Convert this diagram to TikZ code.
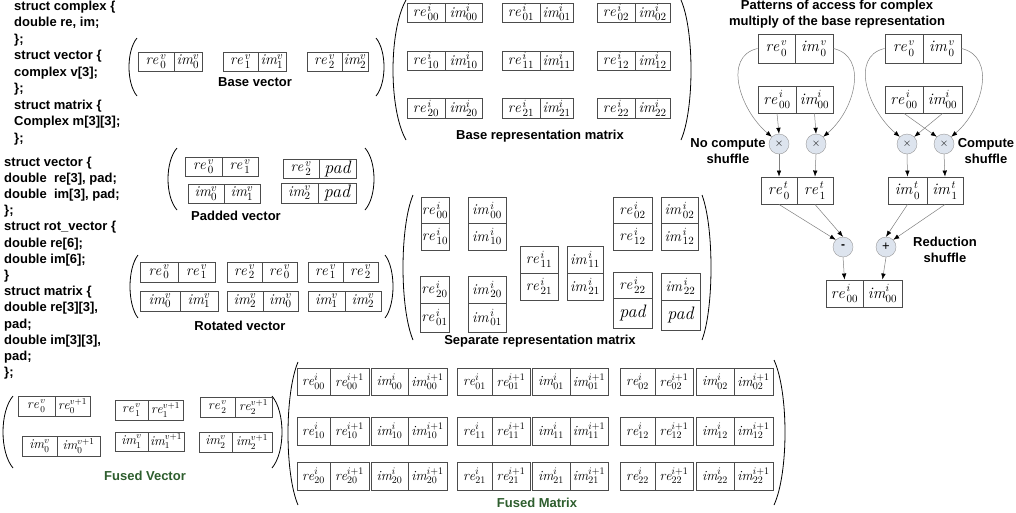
\documentclass[tikz,border=0pt]{standalone}
\usepackage{fontspec}
\newfontfamily\lsans{Liberation Sans}
\usetikzlibrary{arrows.meta}
\definecolor{opfill}{HTML}{DDE4EE}
\definecolor{fgreen}{HTML}{2E5E2E}
\newcommand\vs[3]{$\mathit{#1}^{\,#2}_{\,#3}$}
\newcommand\vt[3]{$\mathit{#1}^{#2}_{#3}$}
\newcommand\padtxt{{\fontsize{18}{18}\selectfont\itshape pad}}
\newcommand\cellbox[6]{%
  \pgfmathsetmacro\cbw{#4-#2}\pgfmathsetmacro\cbh{#5-#3}%
  \pgfmathsetmacro\cbx{(#2+#4)/2}\pgfmathsetmacro\cby{(#3+#5)/2}%
  \node[cellst,minimum width=\cbw pt,minimum height=\cbh pt] (#1) at (\cbx,\cby) {#6};}
% pairbox{name}{x1}{xm}{x2}{y1}{y2}{left}{right}
\newcommand\pairbox[8]{\cellbox{#1a}{#2}{#5}{#3}{#6}{#7}\cellbox{#1b}{#3}{#5}{#4}{#6}{#8}}
% vpairbox{name}{x1}{x2}{y1}{ym}{y2}{top}{bottom}
\newcommand\vpairbox[8]{\cellbox{#1a}{#2}{#4}{#3}{#5}{#7}\cellbox{#1b}{#2}{#5}{#3}{#6}{#8}}
% parenc{xend}{xmid}{ytop}{ybot}
\newcommand\parenc[4]{%
  \pgfmathsetmacro\pcx{(4*#2-#1)/3}\pgfmathsetmacro\pcy{#3+0.22*(#4-#3)}\pgfmathsetmacro\pcz{#4-0.22*(#4-#3)}%
  \draw[paren] (#1,#3) .. controls (\pcx,\pcy) and (\pcx,\pcz) .. (#1,#4);}
\begin{document}
\begin{tikzpicture}[x=1pt,y=-1pt,
  cellst/.style={draw=black!70, line width=0.9pt, inner sep=0pt, font=\fontsize{15}{15}\selectfont},
  paren/.style={draw=black, line width=0.8pt},
  lbl/.style={font=\lsans\bfseries\fontsize{13}{16}\selectfont, inner sep=0pt, align=center},
  code/.style={font=\lsans\bfseries\fontsize{13}{16}\selectfont, inner sep=0pt, anchor=west, text height=9pt, text depth=3pt},
  conn/.style={draw=black!50, line width=0.5pt, -{Latex[length=6pt,width=4.5pt,color=black]}},
  op/.style={circle, draw=black!40, fill=opfill, minimum size=20pt, inner sep=0pt, font=\fontsize{11}{11}\selectfont}]
\useasboundingbox[fill=white] (0,0) rectangle (1016,512);

% ---------- code text
\foreach \t [count=\i from 0] in {{struct complex \{},{double re, im;},{\};},{struct vector \{},{complex v[3];},{\};},{struct matrix \{},{Complex m[3][3];},{\};}}
  \node[code] (ca\i) at (14,{7+16.5*\i}) {\t};
\foreach \t [count=\i from 0] in {{struct vector \{},{double\ \ re[3], pad;},{double\ \ im[3], pad;},{\};},{struct rot\_vector \{},{double re[6];},{double im[6];},{\}},{struct matrix \{},{double re[3][3],},{pad;},{double im[3][3],},{pad;},{\};}}
  \node[code] (cb\i) at (4,{163+16.2*\i}) {\t};

% ---------- base vector
\parenc{137}{129}{38}{96}
\parenc{376}{384}{38}{96}
\pairbox{bv0}{138}{174}{202}{52}{71}{\vs{re}{v}{0}}{\vt{im}{v}{0}}
\pairbox{bv1}{223}{258}{286}{52}{71}{\vs{re}{v}{1}}{\vt{im}{v}{1}}
\pairbox{bv2}{307}{342}{368}{52}{71}{\vs{re}{v}{2}}{\vt{im}{v}{2}}
\node[lbl] (lbv) at (255,82) {Base vector};

% ---------- base representation matrix
\parenc{406}{393}{0}{140}
\parenc{681}{691}{0}{140}
\foreach \r/\yt/\yb in {0/3/22,1/51/70,2/98/118}
  \foreach \c/\xa/\xm/\xb in {0/407/445/482,1/502/540/573,2/597/635/670}
    {\pairbox{bm\r\c}{\xa}{\xm}{\xb}{\yt}{\yb}{\vs{re}{i}{\r\c}}{\vt{im}{i}{\r\c}}}
\node[lbl] (lbm) at (540,136) {Base representation matrix};

% ---------- padded vector
\parenc{177}{168}{148}{210}
\parenc{365}{374}{148}{210}
\pairbox{pv0}{185}{222}{258}{157}{176}{\vs{re}{v}{0}}{\vs{re}{v}{1}}
\pairbox{pv1}{283}{319}{356}{159}{178}{\vs{re}{v}{2}}{\padtxt}
\pairbox{pv2}{188}{224}{260}{184}{203}{\vt{im}{v}{0}}{\vt{im}{v}{1}}
\pairbox{pv3}{281}{318}{356}{183}{203}{\vt{im}{v}{2}}{\padtxt}
\node[lbl] (lpv) at (236,216) {Padded vector};

% ---------- rotated vector
\parenc{138}{130}{255}{318}
\parenc{385}{393}{255}{318}
\pairbox{rv0}{140}{178}{215}{262}{282}{\vs{re}{v}{0}}{\vs{re}{v}{1}}
\pairbox{rv1}{227}{262}{297}{262}{282}{\vs{re}{v}{2}}{\vs{re}{v}{0}}
\pairbox{rv2}{308}{343}{378}{262}{282}{\vs{re}{v}{1}}{\vs{re}{v}{2}}
\pairbox{rv3}{140}{180}{218}{291}{311}{\vt{im}{v}{0}}{\vt{im}{v}{1}}
\pairbox{rv4}{227}{263}{298}{291}{311}{\vt{im}{v}{2}}{\vt{im}{v}{0}}
\pairbox{rv5}{308}{345}{381}{291}{311}{\vt{im}{v}{1}}{\vt{im}{v}{2}}
\node[lbl] (lrv) at (240,326) {Rotated vector};

% ---------- separate representation matrix
\parenc{413}{403}{195}{340}
\parenc{702}{711}{195}{340}
\vpairbox{s1}{421}{449}{197}{223}{250}{\vs{re}{i}{00}}{\vs{re}{i}{10}}
\vpairbox{s2}{468}{506}{197}{223}{250}{\vs{im}{i}{00}}{\vs{im}{i}{10}}
\vpairbox{s3}{420}{449}{276}{303}{332}{\vs{re}{i}{20}}{\vs{re}{i}{01}}
\vpairbox{s4}{468}{506}{276}{303}{332}{\vs{im}{i}{20}}{\vs{im}{i}{01}}
\vpairbox{s5}{520}{558}{246}{273}{300}{\vs{re}{i}{11}}{\vs{re}{i}{21}}
\vpairbox{s6}{567}{603}{246}{273}{300}{\vs{im}{i}{11}}{\vs{im}{i}{21}}
\vpairbox{s7}{613}{652}{197}{223}{250}{\vs{re}{i}{02}}{\vs{re}{i}{12}}
\vpairbox{s8}{661}{698}{197}{223}{250}{\vs{im}{i}{02}}{\vs{im}{i}{12}}
\vpairbox{s9}{613}{652}{272}{298}{328}{\vs{re}{i}{22}}{\padtxt}
\vpairbox{s10}{661}{700}{273}{300}{330}{\vs{im}{i}{22}}{\padtxt}
\node[lbl] (lsm) at (540,341) {Separate representation matrix};

% ---------- fused vector
\parenc{13}{3}{396}{468}
\parenc{272}{282}{396}{468}
\begin{scope}[cellst/.append style={font=\fontsize{13.5}{13.5}\selectfont}]
\pairbox{fv0}{18}{55}{90}{396}{416}{\vs{re}{v}{0}}{\vt{re}{v+1}{0}}
\pairbox{fv1}{115}{148}{183}{400}{420}{\vs{re}{v}{1}}{\vt{re}{v+1}{1}}
\pairbox{fv2}{200}{235}{272}{397}{417}{\vs{re}{v}{2}}{\vt{re}{v+1}{2}}
\pairbox{fv3}{22}{57}{100}{436}{456}{\vt{im}{v}{0}}{\vt{im}{v+1}{0}}
\pairbox{fv4}{115}{148}{184}{432}{451}{\vt{im}{v}{1}}{\vt{im}{v+1}{1}}
\pairbox{fv5}{199}{232}{272}{432}{452}{\vt{im}{v}{2}}{\vt{im}{v+1}{2}}
\end{scope}
\node[lbl, text=fgreen] (lfv) at (145,476) {Fused Vector};

% ---------- fused matrix
\parenc{298}{288}{362}{505}
\parenc{774}{785}{360}{505}
\begin{scope}[cellst/.append style={font=\fontsize{14}{14}\selectfont}]
\foreach \r/\yt/\yb in {0/368/395,1/417/445,2/462/490}
  \foreach \c/\xa/\xm/\xb/\xc/\xn/\xd in {0/297/330/369/371/408/447,1/457/492/530/532/570/608,2/620/655/693/696/734/773}
    {\pairbox{fr\r\c}{\xa}{\xm}{\xb}{\yt}{\yb}{\vt{re}{i}{\r\c}}{\vt{re}{i+1}{\r\c}}%
     \pairbox{fi\r\c}{\xc}{\xn}{\xd}{\yt}{\yb}{\vt{im}{i}{\r\c}}{\vt{im}{i+1}{\r\c}}}
\end{scope}
\node[lbl, text=fgreen] (lfm) at (537,503) {Fused Matrix};

% ---------- access patterns
\node[lbl] (ttl) at (837,14) {Patterns of access for complex\\multiply of the base representation};
\begin{scope}[cellst/.append style={font=\fontsize{16}{16}\selectfont}]
\pairbox{tl}{758}{795}{833}{34}{63}{\vs{re}{v}{0}}{\vs{im}{v}{0}}
\pairbox{tr}{885}{923}{961}{34}{63}{\vs{re}{v}{0}}{\vs{im}{v}{0}}
\pairbox{bl}{758}{796}{833}{86}{113}{\vs{re}{i}{00}}{\vt{im}{i}{00}}
\pairbox{br}{885}{923}{962}{86}{113}{\vs{re}{i}{00}}{\vt{im}{i}{00}}
\pairbox{rt}{761}{797}{833}{177}{204}{\vs{re}{t}{0}}{\vs{re}{t}{1}}
\pairbox{it}{888}{927}{963}{177}{204}{\vs{im}{t}{0}}{\vs{im}{t}{1}}
\pairbox{fo}{826}{863}{902}{280}{307}{\vs{re}{i}{00}}{\vt{im}{i}{00}}
\end{scope}
\node[op] (m1) at (779,144) {$\times$};
\node[op] (m2) at (816,144) {$\times$};
\node[op] (m3) at (907,144) {$\times$};
\node[op] (m4) at (944,144) {$\times$};
\node[op, font=\lsans\bfseries\fontsize{12}{12}\selectfont] (sub) at (843,247) {-};
\node[op, font=\lsans\fontsize{13}{13}\selectfont] (add) at (886,247) {+};
\node[lbl] (lnc) at (728,151) {No compute\\shuffle};
\node[lbl] (lcs) at (986,151) {Compute\\shuffle};
\node[lbl] (lrs) at (945,250) {Reduction\\shuffle};

\draw[conn] (tla.west) .. controls +(-35,8) and +(-32,-27) .. (m1.north west);
\draw[conn] (tlb.east) .. controls +(35,8) and +(32,-27) .. (m2.north east);
\draw[conn] (tra.west) .. controls +(-35,8) and +(-32,-27) .. (m3.north west);
\draw[conn] (trb.east) .. controls +(35,8) and +(32,-27) .. (m4.north east);
\draw[conn] (bla.south) -- (m1.north);
\draw[conn] (blb.south) -- (m2.north);
\draw[conn] (bra.south) -- (m4.north west);
\draw[conn] (brb.south) -- (m3.north east);
\draw[conn] (m1.south) -- (rta.north);
\draw[conn] (m2.south) -- (rtb.north);
\draw[conn] (m3.south) -- (ita.north);
\draw[conn] (m4.south) -- (itb.north);
\draw[conn] (rta.south) -- (sub.north west);
\draw[conn] (rtb.south) -- (sub.north);
\draw[conn] (ita.south) -- (add.north);
\draw[conn] (itb.south) -- (add.north east);
\draw[conn] (sub.south) -- (foa.north);
\draw[conn] (add.south) -- (fob.north);
\end{tikzpicture}
\end{document}
